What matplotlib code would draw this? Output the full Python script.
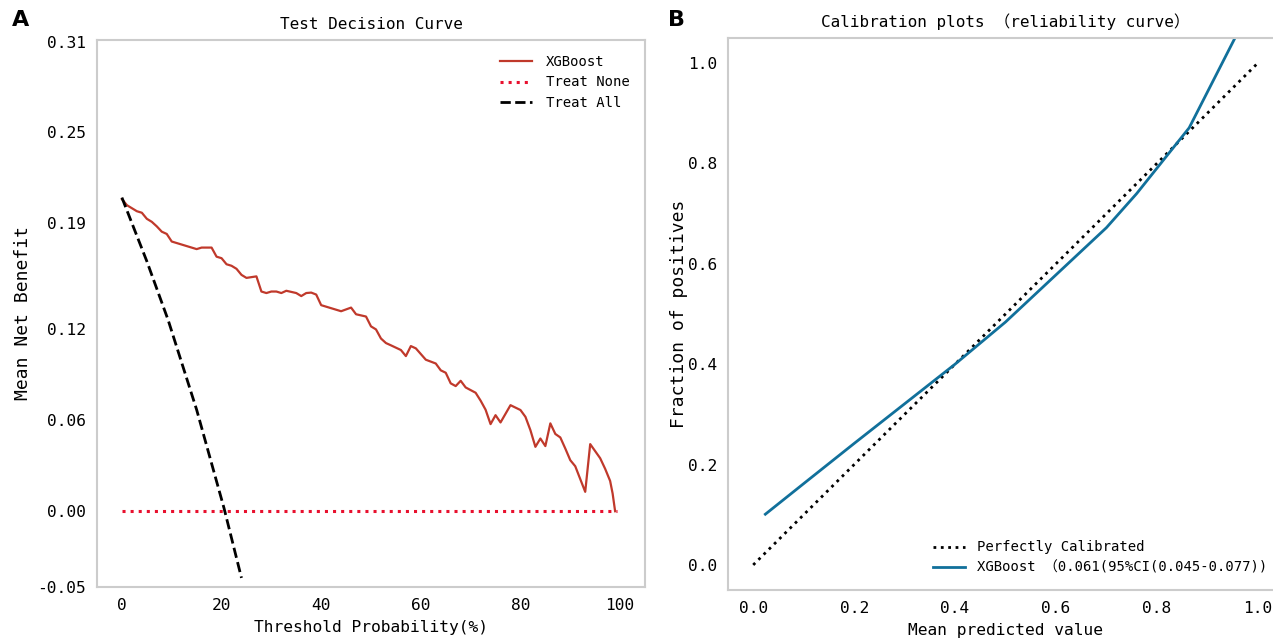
import matplotlib
matplotlib.use('Agg')
import matplotlib.pyplot as plt

# Decision curve values
thresholds = [0, 1, 3, 4, 5, 6, 7, 8, 9, 10, 11, 12, 13, 15, 16, 18, 19, 20, 21, 22,
              23, 24, 25, 27, 28, 29, 30, 31, 32, 33, 35, 36, 37, 38, 39, 40, 41, 42,
              43, 44, 46, 47, 49, 50, 51, 52, 53, 54, 56, 57, 58, 59, 61, 63, 64, 65,
              66, 67, 68, 69, 71, 72, 73, 74, 75, 76, 78, 80, 81, 82, 83, 84, 85, 86,
              87, 88, 89, 90, 91, 93, 94, 96, 97, 98, 98.5, 99]
xgb_nb = [0.206, 0.202, 0.198, 0.197, 0.193, 0.191, 0.188, 0.1845, 0.183, 0.178,
          0.177, 0.176, 0.175, 0.173, 0.174, 0.174, 0.168, 0.167, 0.163, 0.162,
          0.160, 0.156, 0.154, 0.155, 0.145, 0.144, 0.145, 0.145, 0.144, 0.1455,
          0.144, 0.142, 0.144, 0.1443, 0.143, 0.136, 0.135, 0.134, 0.133, 0.132,
          0.1344, 0.130, 0.1285, 0.122, 0.120, 0.114, 0.111, 0.1095, 0.1064, 0.1024,
          0.109, 0.1075, 0.100, 0.0975, 0.093, 0.0914, 0.0844, 0.0826, 0.0861, 0.0817,
          0.0782, 0.073, 0.067, 0.0575, 0.0634, 0.0586, 0.070, 0.0668, 0.0623, 0.0535,
          0.0425, 0.048, 0.043, 0.058, 0.051, 0.0487, 0.0414, 0.0337, 0.0297, 0.0128,
          0.0443, 0.035, 0.028, 0.020, 0.0117, 0.0]
none_x = [0, 99.4]
none_nb = [0.0, 0.0]
all_x = [0, 5, 9.3, 15, 20.5, 24]
all_nb = [0.207, 0.165, 0.126, 0.067, 0.002, -0.044]
dca_yticks = [-0.05, 0.00, 0.06, 0.12, 0.19, 0.25, 0.31]
dca_xticks = [0, 20, 40, 60, 80, 100]

# Calibration values
perfect_x = [0, 1]
perfect_y = [0, 1]
calib_x = [0.024, 0.10, 0.20, 0.30, 0.40, 0.50, 0.60, 0.70, 0.76, 0.864, 0.97]
calib_y = [0.101, 0.162, 0.242, 0.321, 0.400, 0.484, 0.578, 0.672, 0.740, 0.871, 1.08]
cal_ticks = [0.0, 0.2, 0.4, 0.6, 0.8, 1.0]

plt.rcParams['font.family'] = ['DejaVu Sans Mono', 'Noto Sans CJK SC']
plt.rcParams['font.size'] = 11

fig = plt.figure(figsize=(12.73, 6.4), dpi=100)
ax1 = fig.add_axes([97 / 1273, 1 - 587 / 640, (645 - 97) / 1273, (587 - 40) / 640])
ax2 = fig.add_axes([728 / 1273, 1 - 590 / 640, (1283 - 728) / 1273, (590 - 38) / 640])

for ax in (ax1, ax2):
    for s in ax.spines.values():
        s.set_color('#cccccc')
        s.set_linewidth(1.5)
    ax.tick_params(axis='x', length=0, pad=8, labelsize=11.7)
    ax.tick_params(axis='y', length=0, pad=8, labelsize=11.7)

# A: decision curve
ax1.plot(thresholds, xgb_nb, color='#c0392b', lw=1.6, label='XGBoost')
ax1.plot(none_x, none_nb, color='#e8102e', lw=2.2, ls=':', label='Treat None')
ax1.plot(all_x, all_nb, color='black', lw=2, ls='--', label='Treat All')
ax1.set_xlim(-5, 105)
ax1.set_ylim(-0.05, 0.311)
ax1.set_yticks(dca_yticks)
ax1.set_yticklabels(['%.2f' % v for v in dca_yticks])
ax1.set_xticks(dca_xticks)
ax1.set_title('Test Decision Curve', fontsize=11.5, pad=8)
ax1.set_xlabel('Threshold Probability(%)', fontsize=11.7, labelpad=5)
ax1.set_ylabel('Mean Net Benefit', fontsize=13, labelpad=4)
ax1.legend(loc='upper right', frameon=False, fontsize=10, handlelength=2.3,
           handletextpad=1.0, labelspacing=0.45, bbox_to_anchor=(0.995, 0.995))

# B: calibration
ax2.plot(perfect_x, perfect_y, color='black', ls=':', lw=2, label='Perfectly Calibrated')
ax2.plot(calib_x, calib_y, color='#11709b', lw=2,
         label='XGBoost （0.061(95%CI(0.045-0.077))')
ax2.set_xlim(-0.05, 1.05)
ax2.set_ylim(-0.05, 1.05)
ax2.set_xticks(cal_ticks)
ax2.set_yticks(cal_ticks)
ax2.set_title('Calibration plots （reliability curve）', fontsize=11.5, pad=8)
ax2.set_xlabel('Mean predicted value', fontsize=11.7, labelpad=5)
ax2.set_ylabel('Fraction of positives', fontsize=13, labelpad=0)
ax2.legend(loc='lower right', frameon=False, fontsize=10, handlelength=2.3,
           handletextpad=0.9, labelspacing=0.45, bbox_to_anchor=(0.995, 0.005))

fig.text(12 / 1273, 1 - 20 / 640, 'A', fontsize=16, fontweight='bold',
         family='DejaVu Sans', va='center')
fig.text(668 / 1273, 1 - 20 / 640, 'B', fontsize=16, fontweight='bold',
         family='DejaVu Sans', va='center')

fig.savefig('out.png', dpi=100)
